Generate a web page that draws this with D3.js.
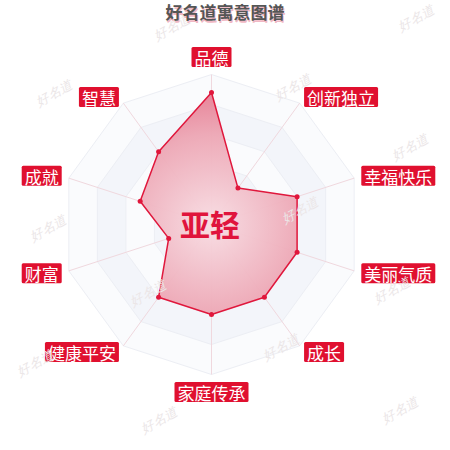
<!DOCTYPE html>
<html><head><meta charset="utf-8">
<script src="https://cdn.jsdelivr.net/npm/d3@7/dist/d3.min.js"></script>
<style>html,body{margin:0;padding:0;background:#fff;} svg{display:block;}</style>
</head><body><svg id="c" width="450" height="450"></svg>
<script>
const categories = ["品德","创新独立","幸福快乐","美丽气质","成长","家庭传承","健康平安","财富","成就","智慧"];
const values = [88,30,60,60,60,60,60,30,50,60];
const maxValue = 100;
const levels = [100,80,60,40,20];
const title = "好名道寓意图谱";
const centerName = "亚轻";
const watermarkText = "好名道";
const watermarks = [[54,93],[172,27],[293,87],[416,18],[410,147],[48,228],[300,210],[148,293],[281,347],[400,410],[159,420],[35,363],[392,290]];

const W = 450, H = 450, cx = 211.5, cy = 224.5, R = 150, labelGap = 7.5;
const svg = d3.select("#c");
const n = categories.length;
const angle = d3.scaleLinear().domain([0, n]).range([0, 2 * Math.PI]);
const radius = d3.scaleLinear().domain([0, maxValue]).range([0, R]);
const g = svg.append("g").attr("transform", `translate(${cx},${cy})`);

const ring = v => d3.lineRadial().angle((d, i) => angle(i)).radius(() => radius(v)).curve(d3.curveLinearClosed)(categories);

// split areas
g.selectAll("path.area").data(levels).join("path")
  .attr("d", d => ring(d))
  .attr("fill", (d, i) => i % 2 === 0 ? "#fafbfd" : "#f3f5fa")
  .attr("stroke", "#eceef4").attr("stroke-width", 1);

// axis lines
g.selectAll("line.axis").data(categories).join("line")
  .attr("x1", 0).attr("y1", 0)
  .attr("x2", (d, i) => radius(maxValue) * Math.sin(angle(i)))
  .attr("y2", (d, i) => -radius(maxValue) * Math.cos(angle(i)))
  .attr("stroke", "#f0d8de").attr("stroke-width", 1);

// watermarks
svg.append("g").selectAll("text").data(watermarks).join("text")
  .attr("transform", d => `translate(${d[0]},${d[1]}) rotate(-30)`)
  .attr("text-anchor", "middle").attr("dominant-baseline", "central")
  .attr("font-family", "'DejaVu Serif', serif").attr("font-style", "italic")
  .attr("font-size", 13)
  .attr("fill", "#ebe6e7").text(watermarkText);

// gradient
const defs = svg.append("defs");
const grad = defs.append("radialGradient").attr("id", "pg")
  .attr("gradientUnits", "userSpaceOnUse").attr("cx", 0).attr("cy", 0).attr("r", R);
grad.append("stop").attr("offset", 0).attr("stop-color", "#f8dde3");
grad.append("stop").attr("offset", 0.6).attr("stop-color", "#eda7b5");
grad.append("stop").attr("offset", 1).attr("stop-color", "#e46f87");

const line = d3.lineRadial().angle((d, i) => angle(i)).radius(d => radius(d)).curve(d3.curveLinearClosed);
g.append("path").attr("d", line(values))
  .attr("fill", "url(#pg)").attr("fill-opacity", 0.96)
  .attr("stroke", "#e0173c").attr("stroke-width", 1.5).attr("stroke-linejoin", "round");
g.selectAll("circle.pt").data(values).join("circle")
  .attr("cx", (d, i) => radius(d) * Math.sin(angle(i)))
  .attr("cy", (d, i) => -radius(d) * Math.cos(angle(i)))
  .attr("r", 2.5).attr("fill", "#e0173c");

// center name
g.append("text").attr("x", -1.5).attr("y", -2).attr("text-anchor", "middle").attr("dominant-baseline", "central")
  .attr("font-family", "'Noto Sans CJK SC', sans-serif").attr("font-weight", "bold").attr("font-size", 30)
  .attr("fill", "#e0143c").text(centerName);

// axis labels
const fs = 17, padX = 3, boxH = 20;
categories.forEach((c, i) => {
  const a = angle(i), lr = R + labelGap;
  const px = lr * Math.sin(a), py = -lr * Math.cos(a);
  const s = Math.sin(a), co = Math.cos(a);
  const lg = g.append("g");
  const t = lg.append("text").attr("font-family", "'Noto Sans CJK SC', sans-serif").attr("font-size", fs)
    .attr("fill", "#fff").attr("dominant-baseline", "central").text(c);
  const w = t.node().getComputedTextLength() + padX * 2;
  let bx, by;
  if (Math.abs(s) < 0.01) { bx = px - w / 2; by = co > 0 ? py - boxH : py; }
  else if (s > 0) { bx = px; by = py - boxH / 2; }
  else { bx = px - w; by = py - boxH / 2; }
  lg.insert("rect", "text").attr("x", bx).attr("y", by).attr("width", w).attr("height", boxH)
    .attr("rx", 1.5).attr("fill", "#e0102f");
  t.attr("x", bx + padX).attr("y", by + boxH / 2 + 0.5);
});

// title
svg.append("text").attr("x", W / 2 + 1).attr("y", 13).attr("text-anchor", "middle").attr("dominant-baseline", "central")
  .attr("font-family", "'Noto Sans CJK SC', sans-serif").attr("font-weight", "bold").attr("font-size", 17)
  .attr("fill", "#f0b8c4").text(title);
svg.append("text").attr("x", W / 2).attr("y", 11.5).attr("text-anchor", "middle").attr("dominant-baseline", "central")
  .attr("font-family", "'Noto Sans CJK SC', sans-serif").attr("font-weight", "bold").attr("font-size", 17)
  .attr("fill", "#555").text(title);
</script></body></html>
